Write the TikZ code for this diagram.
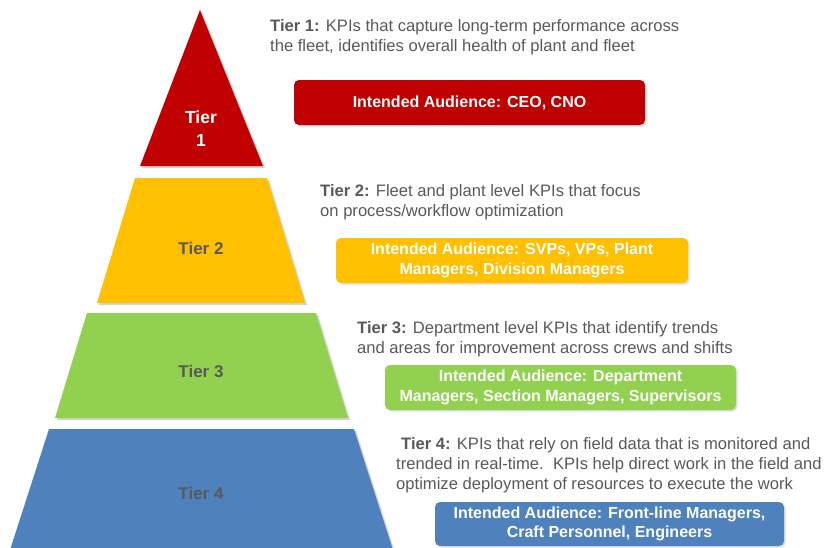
\documentclass[tikz,border=0pt]{standalone}
\usepackage{fontspec}
\setmainfont{Liberation Sans}
\usetikzlibrary{shadows}
\definecolor{tred}{HTML}{C00000}
\definecolor{tyellow}{HTML}{FFC000}
\definecolor{tgreen}{HTML}{92D050}
\definecolor{tblue}{HTML}{4F81BD}
\definecolor{tgray}{HTML}{595959}
\tikzset{
  tiershape/.style={draw=none, drop shadow={shadow xshift=2pt, shadow yshift=-2pt, opacity=0.35}},
  tierlabel/.style={font=\fontsize{17}{23}\selectfont\bfseries, text=tgray, align=center, inner sep=0},
  desc/.style={anchor=west, align=left, inner sep=0, text=tgray, font=\fontsize{16.6}{20.3}\selectfont},
  audbox/.style={rounded corners=5pt, text=white, align=center, inner sep=0,
    font=\fontsize{16}{19.5}\selectfont\bfseries, drop shadow={shadow xshift=1.5pt, shadow yshift=-1.5pt, opacity=0.25}},
}
\begin{document}
\begin{tikzpicture}[x=1pt,y=-1pt]
\useasboundingbox (0,0) rectangle (825,547);
% pyramid
\fill[tred, tiershape] (200,10) -- (263,166) -- (140,166) -- cycle;
\fill[tyellow, tiershape] (135,178) -- (267,178) -- (305,303) -- (97,303) -- cycle;
\fill[tgreen, tiershape] (87,313) -- (316,313) -- (348,418) -- (55,418) -- cycle;
\fill[tblue, tiershape] (49,429) -- (354,429) -- (393,550) -- (10,550) -- cycle;
% tier labels
\node[tierlabel, text=white, font=\fontsize{17.5}{23}\selectfont\bfseries] (t1) at (201,128.5) {Tier\\1};
\node[tierlabel] (t2) at (201,248) {Tier 2};
\node[tierlabel] (t3) at (201,371) {Tier 3};
\node[tierlabel] (t4) at (201,493) {Tier 4};
% descriptions
\node[desc] (d1) at (270,37.5) {\textbf{Tier 1:} KPIs that capture long-term performance across\\the fleet, identifies overall health of plant and fleet};
\node[desc] (d2) at (320,202) {\textbf{Tier 2:} Fleet and plant level KPIs that focus\\on process/workflow optimization};
\node[desc] (d3) at (357,339) {\textbf{Tier 3:} Department level KPIs that identify trends\\and areas for improvement across crews and shifts};
\node[desc] (d4) at (396,465) {\hspace{5pt}\textbf{Tier 4:} KPIs that rely on field data that is monitored and\\trended in real-time.\ \ KPIs help direct work in the field and\\optimize deployment of resources to execute the work};
% audience boxes
\node[audbox, fill=tred, minimum width=351pt, minimum height=45pt] (a1) at (469.5,102.5) {Intended Audience: CEO, CNO};
\node[audbox, fill=tyellow, minimum width=352pt, minimum height=45pt] (a2) at (512,260.5) {Intended Audience: SVPs, VPs, Plant\\Managers, Division Managers};
\node[audbox, fill=tgreen, minimum width=351pt, minimum height=45pt] (a3) at (560.5,387.5) {Intended Audience: Department\\Managers, Section Managers, Supervisors};
\node[audbox, fill=tblue, minimum width=349pt, minimum height=44pt] (a4) at (609.5,524) {Intended Audience: Front-line Managers,\\Craft Personnel, Engineers};
\end{tikzpicture}
\end{document}
